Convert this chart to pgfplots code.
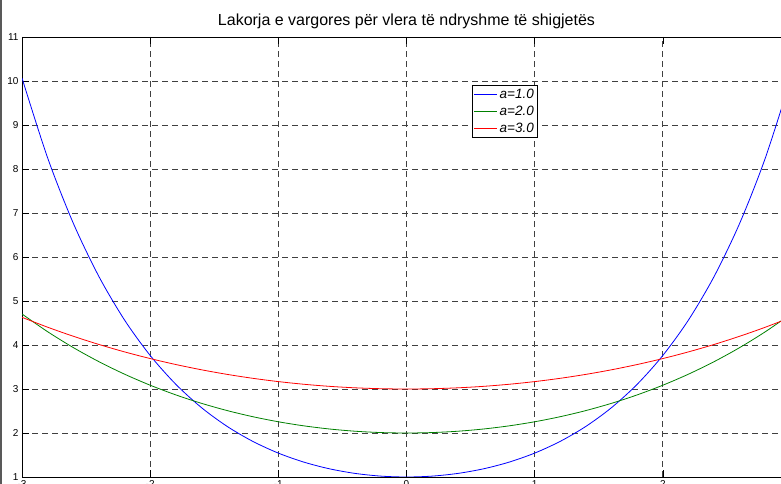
\documentclass[border=0pt]{standalone}
\usepackage{fontspec}
\setmainfont{Liberation Sans}
\usepackage{pgfplots}
\pgfplotsset{compat=1.18}
\definecolor{mblue}{RGB}{0,0,255}
\definecolor{mgreen}{RGB}{0,128,0}
\definecolor{mred}{RGB}{255,0,0}
\begin{document}
\begin{tikzpicture}
\path[use as bounding box] (0,0) rectangle (781pt,484pt);
\begin{scope}
\clip (0,0) rectangle (781pt,484pt);
\begin{axis}[
  at={(22pt,7pt)}, anchor=south west,
  scale only axis, width=769pt, height=440pt,
  xmin=-3, xmax=3, ymin=1, ymax=11,
  xtick={-3,-2,-1,0,1,2,3}, ytick={1,2,...,11},
  tick align=inside, major tick length=7pt,
  tick style={black, line width=0.6pt},
  axis line style={black, line width=0.9pt},
  grid=major,
  major grid style={dash pattern=on 6pt off 4pt, black!75, line width=0.75pt},
  /pgf/number format/assume math mode=true,
  ticklabel style={font=\fontsize{10}{12}\selectfont},
  title={Lakorja e vargores për vlera të ndryshme të shigjetës},
  title style={font=\fontsize{16}{19}\selectfont, at={(0.5,1)}, anchor=south, yshift=-1pt},
  legend style={at={(0.585,0.89)}, anchor=north west, draw=black, line width=0.6pt,
    font=\itshape\fontsize{13.5}{16}\selectfont, inner sep=1.5pt, row sep=2pt,
    fill=white},
  legend cell align=left,
  legend image code/.code={\draw[#1, line width=1pt] (0pt,0pt) -- (23pt,0pt);},
  every axis plot/.append style={line width=0.8pt},
]
\addplot[mblue, smooth] coordinates {
(-3.0,10.06766) (-2.8,8.25273) (-2.6,6.76901) (-2.4,5.55695) (-2.2,4.56791)
(-2.0,3.76220) (-1.8,3.10747) (-1.6,2.57746) (-1.4,2.15090) (-1.2,1.81066)
(-1.0,1.54308) (-0.8,1.33743) (-0.6,1.18547) (-0.4,1.08107) (-0.2,1.02007)
(0,1)
(0.2,1.02007) (0.4,1.08107) (0.6,1.18547) (0.8,1.33743) (1.0,1.54308)
(1.2,1.81066) (1.4,2.15090) (1.6,2.57746) (1.8,3.10747) (2.0,3.76220)
(2.2,4.56791) (2.4,5.55695) (2.6,6.76901) (2.8,8.25273) (3.0,10.06766)
};
\addlegendentry{a=1.0}
\addplot[mgreen, smooth] coordinates {
(-3.0,4.70482) (-2.8,4.30180) (-2.6,3.94183) (-2.4,3.62131) (-2.2,3.33704)
(-2.0,3.08616) (-1.8,2.86617) (-1.6,2.67487) (-1.4,2.51034) (-1.2,2.37093)
(-1.0,2.25525) (-0.8,2.16214) (-0.6,2.09068) (-0.4,2.04013) (-0.2,2.01001)
(0,2)
(0.2,2.01001) (0.4,2.04013) (0.6,2.09068) (0.8,2.16214) (1.0,2.25525)
(1.2,2.37093) (1.4,2.51034) (1.6,2.67487) (1.8,2.86617) (2.0,3.08616)
(2.2,3.33704) (2.4,3.62131) (2.6,3.94183) (2.8,4.30180) (3.0,4.70482)
};
\addlegendentry{a=2.0}
\addplot[mred, smooth] coordinates {
(-3.0,4.62924) (-2.8,4.40432) (-2.6,4.19898) (-2.4,4.01231) (-2.2,3.84347)
(-2.0,3.69173) (-1.8,3.55640) (-1.6,3.43688) (-1.4,3.33264) (-1.2,3.24322)
(-1.0,3.16822) (-0.8,3.10730) (-0.6,3.06020) (-0.4,3.02671) (-0.2,3.00667)
(0,3)
(0.2,3.00667) (0.4,3.02671) (0.6,3.06020) (0.8,3.10730) (1.0,3.16822)
(1.2,3.24322) (1.4,3.33264) (1.6,3.43688) (1.8,3.55640) (2.0,3.69173)
(2.2,3.84347) (2.4,4.01231) (2.6,4.19898) (2.8,4.40432) (3.0,4.62924)
};
\addlegendentry{a=3.0}
\end{axis}
\draw[black!65, line width=1.5pt] (0.75pt,0) -- (0.75pt,484pt);
\end{scope}
\end{tikzpicture}
\end{document}
